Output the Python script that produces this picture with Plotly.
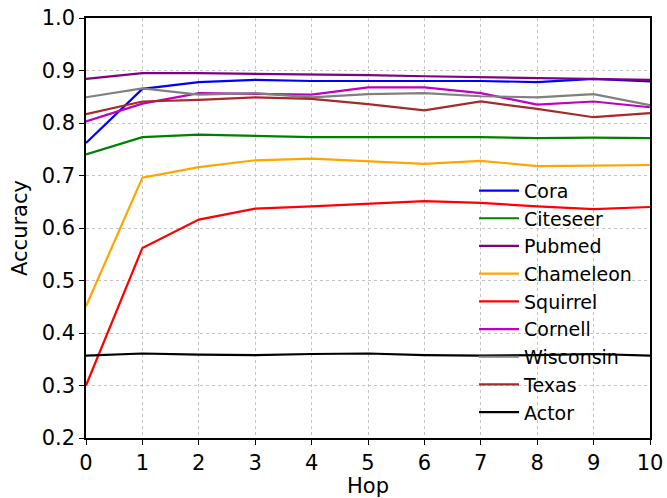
import plotly.graph_objects as go

hops = list(range(11))
cora = [0.762, 0.865, 0.878, 0.882, 0.880, 0.880, 0.880, 0.880, 0.878, 0.884, 0.879]
citeseer = [0.740, 0.773, 0.778, 0.776, 0.773, 0.773, 0.773, 0.773, 0.771, 0.772, 0.771]
pubmed = [0.884, 0.895, 0.895, 0.894, 0.892, 0.891, 0.889, 0.887, 0.885, 0.884, 0.882]
chameleon = [0.451, 0.696, 0.716, 0.729, 0.732, 0.727, 0.722, 0.728, 0.718, 0.719, 0.720]
squirrel = [0.300, 0.562, 0.616, 0.637, 0.641, 0.646, 0.651, 0.648, 0.641, 0.636, 0.640]
cornell = [0.803, 0.837, 0.857, 0.855, 0.854, 0.868, 0.868, 0.857, 0.835, 0.841, 0.830]
wisconsin = [0.849, 0.866, 0.854, 0.857, 0.849, 0.855, 0.857, 0.851, 0.849, 0.855, 0.834]
texas = [0.817, 0.841, 0.844, 0.849, 0.846, 0.836, 0.824, 0.841, 0.827, 0.811, 0.819]
actor = [0.357, 0.361, 0.359, 0.358, 0.360, 0.361, 0.358, 0.357, 0.358, 0.360, 0.357]

series = [
    ("Cora", cora, "#0000ff"),
    ("Citeseer", citeseer, "#008000"),
    ("Pubmed", pubmed, "#800080"),
    ("Chameleon", chameleon, "#ffa500"),
    ("Squirrel", squirrel, "#ff0000"),
    ("Cornell", cornell, "#bf00bf"),
    ("Wisconsin", wisconsin, "#808080"),
    ("Texas", texas, "#a52a2a"),
    ("Actor", actor, "#000000"),
]

fig = go.Figure()
for name, vals, color in series:
    fig.add_trace(go.Scatter(x=hops, y=vals, mode="lines", name=name,
                             line=dict(color=color, width=2.2)))

font = "DejaVu Sans, sans-serif"
fig.update_layout(
    width=667, height=498,
    margin=dict(l=86, r=17, t=18, b=60),
    paper_bgcolor="white", plot_bgcolor="white",
    font=dict(family=font, size=20, color="black"),
    showlegend=True,
    legend=dict(x=0.688, y=0.634, xanchor="left", yanchor="top",
                bgcolor="rgba(0,0,0,0)", borderwidth=0, itemwidth=40,
                font=dict(size=19, family=font), tracegroupgap=0),
    xaxis=dict(range=[0, 10], tickmode="array", tickvals=hops,
               ticktext=[str(h) for h in hops], automargin=False,
               tickfont=dict(size=21),
               showline=True, linecolor="black", linewidth=1.5, mirror=True,
               ticks="outside", ticklen=5, tickcolor="black",
               showgrid=True, gridcolor="#c4c4c4", griddash="dot", gridwidth=1,
               zeroline=False,
               title=dict(text="Hop", font=dict(size=21), standoff=4)),
    yaxis=dict(range=[0.2, 1.0], tickmode="array",
               tickvals=[0.2, 0.3, 0.4, 0.5, 0.6, 0.7, 0.8, 0.9, 1.0],
               tickformat=".1f", automargin=False,
               tickfont=dict(size=21),
               showline=True, linecolor="black", linewidth=1.5, mirror=True,
               ticks="outside", ticklen=5, tickcolor="black",
               showgrid=True, gridcolor="#c4c4c4", griddash="dot", gridwidth=1,
               zeroline=False,
               title=dict(text="Accuracy", font=dict(size=21), standoff=8)),
)

fig.write_html("out.html")
